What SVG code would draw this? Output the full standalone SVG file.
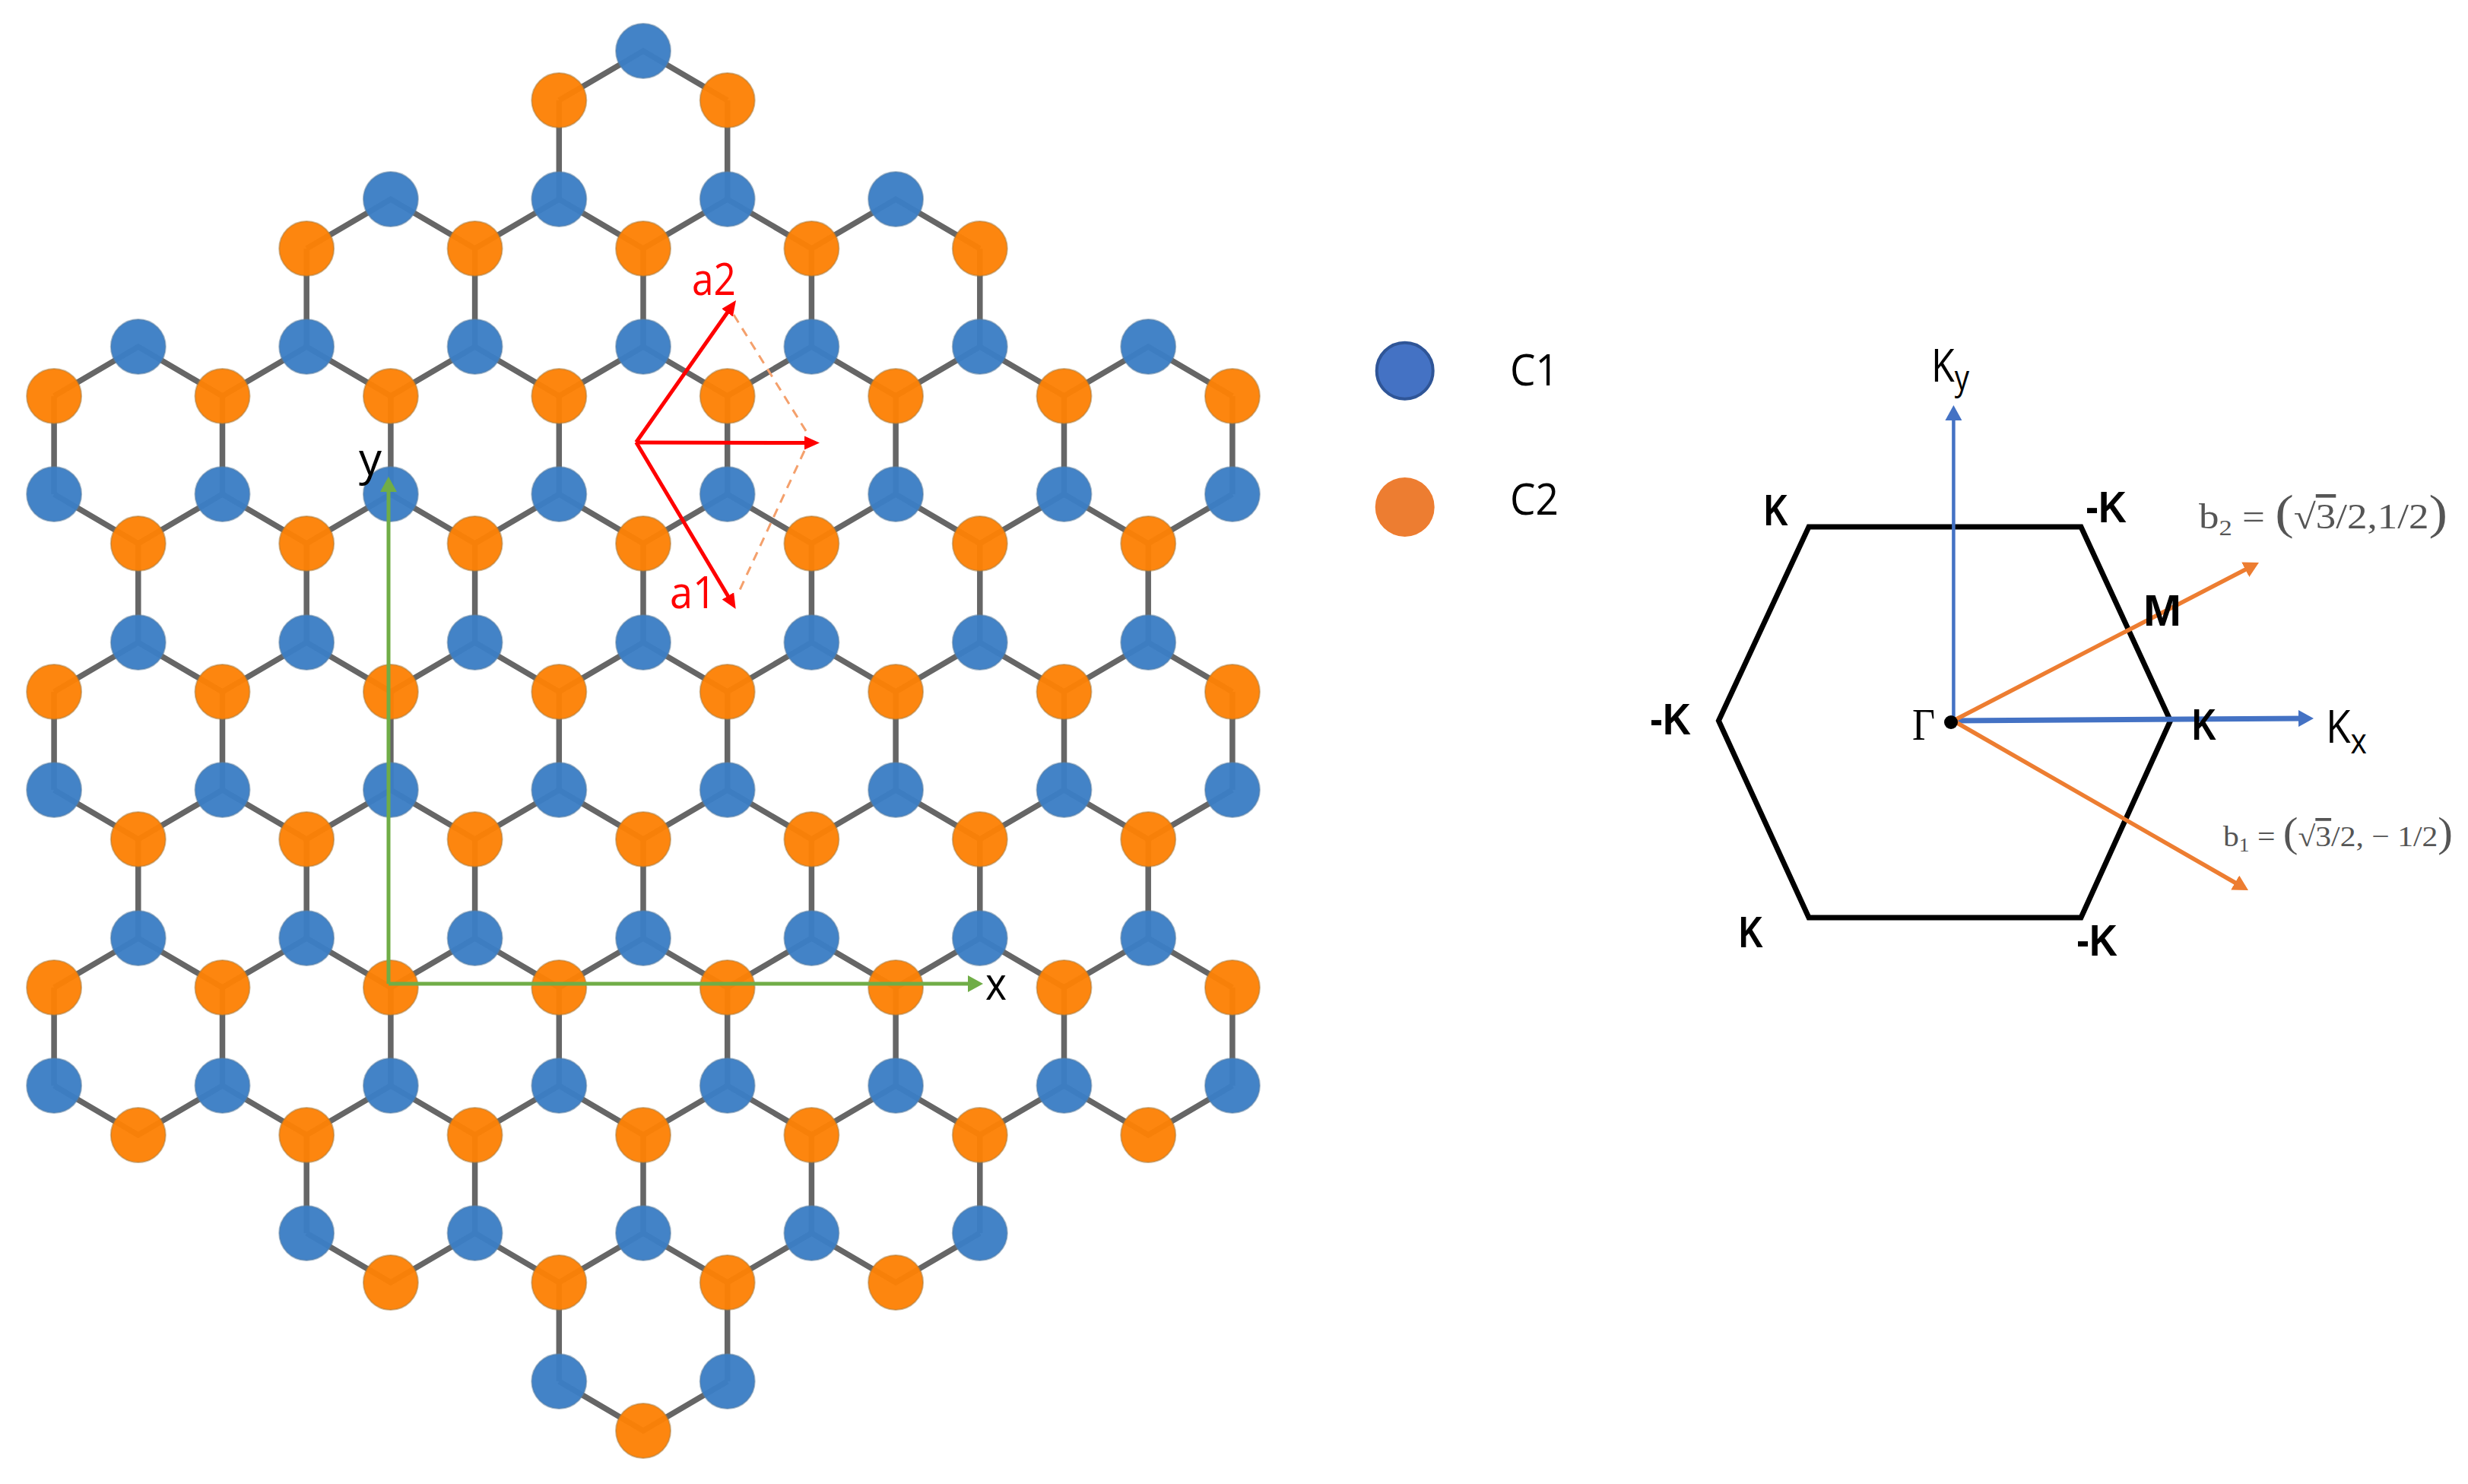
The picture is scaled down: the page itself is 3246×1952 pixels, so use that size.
<svg xmlns="http://www.w3.org/2000/svg" width="3246" height="1952" viewBox="0 0 3246 1952">
<style>
.bond{fill:none;stroke:#666;stroke-width:7.5}
.b{fill:#3b7ec5;fill-opacity:.96;stroke:#5a7ea0;stroke-opacity:.5;stroke-width:2}
.o{fill:#fd8105;fill-opacity:.96;stroke:#a8793c;stroke-opacity:.5;stroke-width:2}
.red{stroke:#ff0000;stroke-width:5;fill:none}
.dash{stroke:#f4a06c;stroke-width:3;stroke-dasharray:12 9;fill:none}
.grn{stroke:#70ad47;stroke-width:5;fill:none}
.blu{stroke:#4472c4;stroke-width:4.5;fill:none}
.org{stroke:#ed7d31;stroke-width:5.5;fill:none}
.hex{stroke:#000;stroke-width:7;fill:none;stroke-linejoin:miter}
text{font-family:"Open Sans","Liberation Sans",sans-serif;fill:#000}
.rt{fill:#ff0000;font-size:58px}
.lg{font-size:56px}
.ax{font-size:60px}
.sub{font-size:46px}
.k{font-family:"Liberation Sans",sans-serif;font-weight:700;font-size:58px}
.m{font-family:"Liberation Serif",serif;fill:#555}
</style>
<defs>
<marker id="mr" markerUnits="userSpaceOnUse" markerWidth="20" markerHeight="20" refX="8" refY="10" orient="auto"><path d="M0 1L20 10L0 19z" fill="#ff0000"/></marker>
<marker id="mg" markerUnits="userSpaceOnUse" markerWidth="20" markerHeight="22" refX="8" refY="11" orient="auto"><path d="M0 0L20 11L0 22z" fill="#70ad47"/></marker>
<marker id="mb" markerUnits="userSpaceOnUse" markerWidth="20" markerHeight="22" refX="8" refY="11" orient="auto"><path d="M0 0L20 11L0 22z" fill="#4472c4"/></marker>
<marker id="mo" markerUnits="userSpaceOnUse" markerWidth="20" markerHeight="22" refX="8" refY="11" orient="auto"><path d="M0 0L20 11L0 22z" fill="#ed7d31"/></marker>
</defs>
<rect width="3246" height="1952" fill="#fff"/>
<g id="connectors">
<path class="bond" d="M735.3 132L846 67L956.7 132"/>
<path class="bond" d="M403.2 327L513.9 262L624.6 327L735.3 262L846 327L956.7 262L1067.4 327L1178.1 262L1288.8 327"/>
<path class="bond" d="M71.1 521L181.8 456L292.5 521L403.2 456L513.9 521L624.6 456L735.3 521L846 456L956.7 521L1067.4 456L1178.1 521L1288.8 456L1399.5 521L1510.2 456L1620.9 521"/>
<path class="bond" d="M71.1 650L181.8 715L292.5 650L403.2 715L513.9 650L624.6 715L735.3 650L846 715L956.7 650L1067.4 715L1178.1 650L1288.8 715L1399.5 650L1510.2 715L1620.9 650"/>
<path class="bond" d="M71.1 910L181.8 845L292.5 910L403.2 845L513.9 910L624.6 845L735.3 910L846 845L956.7 910L1067.4 845L1178.1 910L1288.8 845L1399.5 910L1510.2 845L1620.9 910"/>
<path class="bond" d="M71.1 1039L181.8 1104L292.5 1039L403.2 1104L513.9 1039L624.6 1104L735.3 1039L846 1104L956.7 1039L1067.4 1104L1178.1 1039L1288.8 1104L1399.5 1039L1510.2 1104L1620.9 1039"/>
<path class="bond" d="M71.1 1299L181.8 1234L292.5 1299L403.2 1234L513.9 1299L624.6 1234L735.3 1299L846 1234L956.7 1299L1067.4 1234L1178.1 1299L1288.8 1234L1399.5 1299L1510.2 1234L1620.9 1299"/>
<path class="bond" d="M71.1 1428L181.8 1493L292.5 1428L403.2 1493L513.9 1428L624.6 1493L735.3 1428L846 1493L956.7 1428L1067.4 1493L1178.1 1428L1288.8 1493L1399.5 1428L1510.2 1493L1620.9 1428"/>
<path class="bond" d="M403.2 1622L513.9 1687L624.6 1622L735.3 1687L846 1622L956.7 1687L1067.4 1622L1178.1 1687L1288.8 1622"/>
<path class="bond" d="M735.3 1817L846 1882L956.7 1817"/>
<path class="bond" d="M735.3 132V262M956.7 132V262"/>
<path class="bond" d="M403.2 327V456M624.6 327V456M846 327V456M1067.4 327V456M1288.8 327V456"/>
<path class="bond" d="M71.1 521V650M292.5 521V650M513.9 521V650M735.3 521V650M956.7 521V650M1178.1 521V650M1399.5 521V650M1620.9 521V650"/>
<path class="bond" d="M181.8 715V845M403.2 715V845M624.6 715V845M846 715V845M1067.4 715V845M1288.8 715V845M1510.2 715V845"/>
<path class="bond" d="M71.1 910V1039M292.5 910V1039M513.9 910V1039M735.3 910V1039M956.7 910V1039M1178.1 910V1039M1399.5 910V1039M1620.9 910V1039"/>
<path class="bond" d="M181.8 1104V1234M403.2 1104V1234M624.6 1104V1234M846 1104V1234M1067.4 1104V1234M1288.8 1104V1234M1510.2 1104V1234"/>
<path class="bond" d="M71.1 1299V1428M292.5 1299V1428M513.9 1299V1428M735.3 1299V1428M956.7 1299V1428M1178.1 1299V1428M1399.5 1299V1428M1620.9 1299V1428"/>
<path class="bond" d="M403.2 1493V1622M624.6 1493V1622M846 1493V1622M1067.4 1493V1622M1288.8 1493V1622"/>
<path class="bond" d="M735.3 1687V1817M956.7 1687V1817"/>
</g>
<g id="atoms">
<g id="b0a"><circle class="b" cx="846" cy="67" r="36"/></g>
<g id="o0a"><circle class="o" cx="735.3" cy="132" r="36"/></g>
<g id="o0b"><circle class="o" cx="956.7" cy="132" r="36"/></g>
<g id="b1a"><circle class="b" cx="513.9" cy="262" r="36"/></g>
<g id="b1b"><circle class="b" cx="735.3" cy="262" r="36"/></g>
<g id="b1c"><circle class="b" cx="956.7" cy="262" r="36"/></g>
<g id="b1d"><circle class="b" cx="1178.1" cy="262" r="36"/></g>
<g id="o1a"><circle class="o" cx="403.2" cy="327" r="36"/></g>
<g id="o1b"><circle class="o" cx="624.6" cy="327" r="36"/></g>
<g id="o1c"><circle class="o" cx="846" cy="327" r="36"/></g>
<g id="o1d"><circle class="o" cx="1067.4" cy="327" r="36"/></g>
<g id="o1e"><circle class="o" cx="1288.8" cy="327" r="36"/></g>
<g id="b2a"><circle class="b" cx="181.8" cy="456" r="36"/></g>
<g id="b2b"><circle class="b" cx="403.2" cy="456" r="36"/></g>
<g id="b2c"><circle class="b" cx="624.6" cy="456" r="36"/></g>
<g id="b2d"><circle class="b" cx="846" cy="456" r="36"/></g>
<g id="b2e"><circle class="b" cx="1067.4" cy="456" r="36"/></g>
<g id="b2f"><circle class="b" cx="1288.8" cy="456" r="36"/></g>
<g id="b2g"><circle class="b" cx="1510.2" cy="456" r="36"/></g>
<g id="o2a"><circle class="o" cx="71.1" cy="521" r="36"/></g>
<g id="o2b"><circle class="o" cx="292.5" cy="521" r="36"/></g>
<g id="o2c"><circle class="o" cx="513.9" cy="521" r="36"/></g>
<g id="o2d"><circle class="o" cx="735.3" cy="521" r="36"/></g>
<g id="o2e"><circle class="o" cx="956.7" cy="521" r="36"/></g>
<g id="o2f"><circle class="o" cx="1178.1" cy="521" r="36"/></g>
<g id="o2g"><circle class="o" cx="1399.5" cy="521" r="36"/></g>
<g id="o2h"><circle class="o" cx="1620.9" cy="521" r="36"/></g>
<g id="b3a"><circle class="b" cx="71.1" cy="650" r="36"/></g>
<g id="b3b"><circle class="b" cx="292.5" cy="650" r="36"/></g>
<g id="b3c"><circle class="b" cx="513.9" cy="650" r="36"/></g>
<g id="b3d"><circle class="b" cx="735.3" cy="650" r="36"/></g>
<g id="b3e"><circle class="b" cx="956.7" cy="650" r="36"/></g>
<g id="b3f"><circle class="b" cx="1178.1" cy="650" r="36"/></g>
<g id="b3g"><circle class="b" cx="1399.5" cy="650" r="36"/></g>
<g id="b3h"><circle class="b" cx="1620.9" cy="650" r="36"/></g>
<g id="o3a"><circle class="o" cx="181.8" cy="715" r="36"/></g>
<g id="o3b"><circle class="o" cx="403.2" cy="715" r="36"/></g>
<g id="o3c"><circle class="o" cx="624.6" cy="715" r="36"/></g>
<g id="o3d"><circle class="o" cx="846" cy="715" r="36"/></g>
<g id="o3e"><circle class="o" cx="1067.4" cy="715" r="36"/></g>
<g id="o3f"><circle class="o" cx="1288.8" cy="715" r="36"/></g>
<g id="o3g"><circle class="o" cx="1510.2" cy="715" r="36"/></g>
<g id="b4a"><circle class="b" cx="181.8" cy="845" r="36"/></g>
<g id="b4b"><circle class="b" cx="403.2" cy="845" r="36"/></g>
<g id="b4c"><circle class="b" cx="624.6" cy="845" r="36"/></g>
<g id="b4d"><circle class="b" cx="846" cy="845" r="36"/></g>
<g id="b4e"><circle class="b" cx="1067.4" cy="845" r="36"/></g>
<g id="b4f"><circle class="b" cx="1288.8" cy="845" r="36"/></g>
<g id="b4g"><circle class="b" cx="1510.2" cy="845" r="36"/></g>
<g id="o4a"><circle class="o" cx="71.1" cy="910" r="36"/></g>
<g id="o4b"><circle class="o" cx="292.5" cy="910" r="36"/></g>
<g id="o4c"><circle class="o" cx="513.9" cy="910" r="36"/></g>
<g id="o4d"><circle class="o" cx="735.3" cy="910" r="36"/></g>
<g id="o4e"><circle class="o" cx="956.7" cy="910" r="36"/></g>
<g id="o4f"><circle class="o" cx="1178.1" cy="910" r="36"/></g>
<g id="o4g"><circle class="o" cx="1399.5" cy="910" r="36"/></g>
<g id="o4h"><circle class="o" cx="1620.9" cy="910" r="36"/></g>
<g id="b5a"><circle class="b" cx="71.1" cy="1039" r="36"/></g>
<g id="b5b"><circle class="b" cx="292.5" cy="1039" r="36"/></g>
<g id="b5c"><circle class="b" cx="513.9" cy="1039" r="36"/></g>
<g id="b5d"><circle class="b" cx="735.3" cy="1039" r="36"/></g>
<g id="b5e"><circle class="b" cx="956.7" cy="1039" r="36"/></g>
<g id="b5f"><circle class="b" cx="1178.1" cy="1039" r="36"/></g>
<g id="b5g"><circle class="b" cx="1399.5" cy="1039" r="36"/></g>
<g id="b5h"><circle class="b" cx="1620.9" cy="1039" r="36"/></g>
<g id="o5a"><circle class="o" cx="181.8" cy="1104" r="36"/></g>
<g id="o5b"><circle class="o" cx="403.2" cy="1104" r="36"/></g>
<g id="o5c"><circle class="o" cx="624.6" cy="1104" r="36"/></g>
<g id="o5d"><circle class="o" cx="846" cy="1104" r="36"/></g>
<g id="o5e"><circle class="o" cx="1067.4" cy="1104" r="36"/></g>
<g id="o5f"><circle class="o" cx="1288.8" cy="1104" r="36"/></g>
<g id="o5g"><circle class="o" cx="1510.2" cy="1104" r="36"/></g>
<g id="b6a"><circle class="b" cx="181.8" cy="1234" r="36"/></g>
<g id="b6b"><circle class="b" cx="403.2" cy="1234" r="36"/></g>
<g id="b6c"><circle class="b" cx="624.6" cy="1234" r="36"/></g>
<g id="b6d"><circle class="b" cx="846" cy="1234" r="36"/></g>
<g id="b6e"><circle class="b" cx="1067.4" cy="1234" r="36"/></g>
<g id="b6f"><circle class="b" cx="1288.8" cy="1234" r="36"/></g>
<g id="b6g"><circle class="b" cx="1510.2" cy="1234" r="36"/></g>
<g id="o6a"><circle class="o" cx="71.1" cy="1299" r="36"/></g>
<g id="o6b"><circle class="o" cx="292.5" cy="1299" r="36"/></g>
<g id="o6c"><circle class="o" cx="513.9" cy="1299" r="36"/></g>
<g id="o6d"><circle class="o" cx="735.3" cy="1299" r="36"/></g>
<g id="o6e"><circle class="o" cx="956.7" cy="1299" r="36"/></g>
<g id="o6f"><circle class="o" cx="1178.1" cy="1299" r="36"/></g>
<g id="o6g"><circle class="o" cx="1399.5" cy="1299" r="36"/></g>
<g id="o6h"><circle class="o" cx="1620.9" cy="1299" r="36"/></g>
<g id="b7a"><circle class="b" cx="71.1" cy="1428" r="36"/></g>
<g id="b7b"><circle class="b" cx="292.5" cy="1428" r="36"/></g>
<g id="b7c"><circle class="b" cx="513.9" cy="1428" r="36"/></g>
<g id="b7d"><circle class="b" cx="735.3" cy="1428" r="36"/></g>
<g id="b7e"><circle class="b" cx="956.7" cy="1428" r="36"/></g>
<g id="b7f"><circle class="b" cx="1178.1" cy="1428" r="36"/></g>
<g id="b7g"><circle class="b" cx="1399.5" cy="1428" r="36"/></g>
<g id="b7h"><circle class="b" cx="1620.9" cy="1428" r="36"/></g>
<g id="o7a"><circle class="o" cx="181.8" cy="1493" r="36"/></g>
<g id="o7b"><circle class="o" cx="403.2" cy="1493" r="36"/></g>
<g id="o7c"><circle class="o" cx="624.6" cy="1493" r="36"/></g>
<g id="o7d"><circle class="o" cx="846" cy="1493" r="36"/></g>
<g id="o7e"><circle class="o" cx="1067.4" cy="1493" r="36"/></g>
<g id="o7f"><circle class="o" cx="1288.8" cy="1493" r="36"/></g>
<g id="o7g"><circle class="o" cx="1510.2" cy="1493" r="36"/></g>
<g id="b8a"><circle class="b" cx="403.2" cy="1622" r="36"/></g>
<g id="b8b"><circle class="b" cx="624.6" cy="1622" r="36"/></g>
<g id="b8c"><circle class="b" cx="846" cy="1622" r="36"/></g>
<g id="b8d"><circle class="b" cx="1067.4" cy="1622" r="36"/></g>
<g id="b8e"><circle class="b" cx="1288.8" cy="1622" r="36"/></g>
<g id="o8a"><circle class="o" cx="513.9" cy="1687" r="36"/></g>
<g id="o8b"><circle class="o" cx="735.3" cy="1687" r="36"/></g>
<g id="o8c"><circle class="o" cx="956.7" cy="1687" r="36"/></g>
<g id="o8d"><circle class="o" cx="1178.1" cy="1687" r="36"/></g>
<g id="b9a"><circle class="b" cx="735.3" cy="1817" r="36"/></g>
<g id="b9b"><circle class="b" cx="956.7" cy="1817" r="36"/></g>
<g id="o9a"><circle class="o" cx="846" cy="1882" r="36"/></g>
</g>
<g id="vectors">
<line class="grn" x1="511" y1="1294" x2="511" y2="639" marker-end="url(#mg)"/>
<line class="grn" x1="511" y1="1294" x2="1281" y2="1294" marker-end="url(#mg)"/>
<line class="dash" x1="965" y1="414" x2="1062" y2="570"/>
<line class="dash" x1="1058" y1="593" x2="972" y2="778"/>
<line class="red" x1="836.7" y1="581.7" x2="961.1" y2="404.8" marker-end="url(#mr)"/>
<line class="red" x1="836.7" y1="581.7" x2="961.5" y2="790.7" marker-end="url(#mr)"/>
<line class="red" x1="836.7" y1="582" x2="1066" y2="582.5" marker-end="url(#mr)"/>
</g>
<g id="lattice-labels">
<text class="rt" x="910" y="388" textLength="58" lengthAdjust="spacingAndGlyphs">a2</text>
<text class="rt" x="881" y="800" textLength="61" lengthAdjust="spacingAndGlyphs">a1</text>
<text class="ax" x="472" y="625" textLength="30" lengthAdjust="spacingAndGlyphs">y</text>
<text class="ax" x="1296" y="1315" textLength="28" lengthAdjust="spacingAndGlyphs">x</text>
</g>
<g id="legend-c1"><circle cx="1847.7" cy="487.7" r="37" fill="#4472c4" stroke="#2f5597" stroke-width="4"/><text class="lg" x="1986" y="507" textLength="64" lengthAdjust="spacingAndGlyphs">C1</text></g>
<g id="legend-c2"><circle cx="1847.7" cy="667" r="39" fill="#ed7d31"/><text class="lg" x="1986" y="677" textLength="64" lengthAdjust="spacingAndGlyphs">C2</text></g>
<g id="brillouin-zone"><polygon class="hex" points="2379,693 2737,693 2854.6,948 2737,1207 2379,1207 2260.4,948"/></g>
<g id="reciprocal-vectors">
<line class="blu" x1="2569.4" y1="948" x2="2569.4" y2="545" marker-end="url(#mb)"/>
<line class="blu" x1="2569" y1="948" x2="3031" y2="945" style="stroke-width:7" marker-end="url(#mb)"/>
<line class="org" x1="2569" y1="948" x2="2960.3" y2="745.5" marker-end="url(#mo)"/>
<line class="org" x1="2569" y1="948" x2="2946.6" y2="1165" marker-end="url(#mo)"/>
</g>
<g id="gamma"><circle cx="2566" cy="950" r="9" fill="#000"/><text x="2515" y="973" textLength="30" lengthAdjust="spacingAndGlyphs" style="font-family:'Liberation Serif',serif;font-size:60px">Γ</text></g>
<g id="k-labels">
<text class="k" x="2320" y="691" textLength="32" lengthAdjust="spacingAndGlyphs">K</text>
<text class="k" x="2743" y="687" textLength="54" lengthAdjust="spacingAndGlyphs">-K</text>
<text class="k" x="2819" y="823" textLength="50" lengthAdjust="spacingAndGlyphs">M</text>
<text class="k" x="2883" y="973" textLength="32" lengthAdjust="spacingAndGlyphs">K</text>
<text class="k" x="2170" y="966" textLength="54" lengthAdjust="spacingAndGlyphs">-K</text>
<text class="k" x="2287" y="1246" textLength="32" lengthAdjust="spacingAndGlyphs">K</text>
<text class="k" x="2731" y="1257" textLength="54" lengthAdjust="spacingAndGlyphs">-K</text>
</g>
<g id="axis-labels">
<text class="ax" x="2540" y="502" textLength="50" lengthAdjust="spacingAndGlyphs">K<tspan class="sub" dy="11">y</tspan></text>
<text class="ax" x="3059" y="977" textLength="54" lengthAdjust="spacingAndGlyphs">K<tspan class="sub" dy="14">x</tspan></text>
</g>
<g id="b-labels">
<text class="m" x="2892" y="695" style="font-size:46px" textLength="327" lengthAdjust="spacingAndGlyphs">b<tspan dy="9" style="font-size:30px">2</tspan><tspan dy="-9"> = </tspan><tspan style="font-size:64px">(</tspan>√<tspan text-decoration="overline">3</tspan>/2,1/2<tspan style="font-size:64px">)</tspan></text>
<text class="m" x="2924" y="1113" style="font-size:38px" textLength="302" lengthAdjust="spacingAndGlyphs">b<tspan dy="7" style="font-size:25px">1</tspan><tspan dy="-7"> = </tspan><tspan style="font-size:54px">(</tspan>√<tspan text-decoration="overline">3</tspan>/2, − 1/2<tspan style="font-size:54px">)</tspan></text>
</g>
</svg>
